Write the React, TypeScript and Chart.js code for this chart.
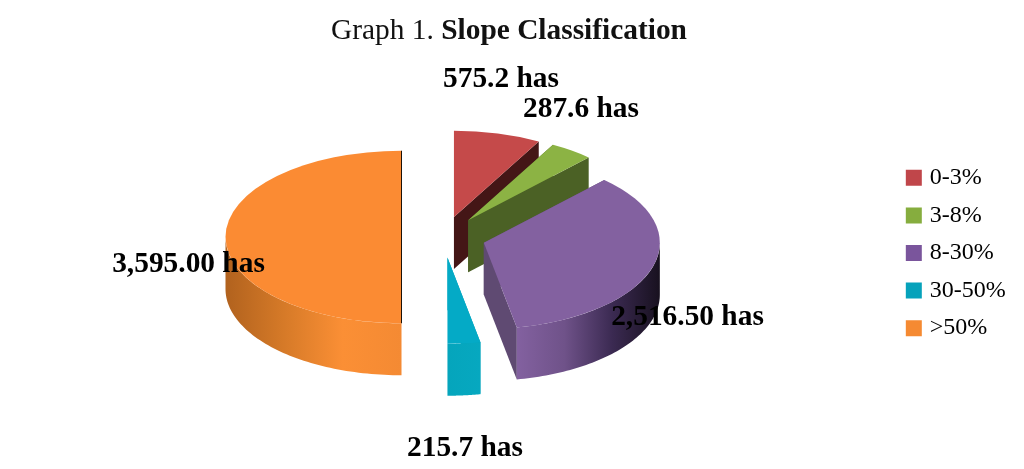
import React, { useEffect, useRef } from "react";
import { Chart, registerables } from "chart.js";

Chart.register(...registerables);

const categories = ["0-3%", "3-8%", "8-30%", "30-50%", ">50%"];
const hectares = [575.2, 287.6, 2516.5, 215.7, 3595.0];
const valueLabels = ["575.2 has", "287.6 has", "2,516.50 has", "215.7 has", "3,595.00 has"];

const topColors = ["#c54a4a", "#8cb344", "#8361a0", "#04aac6", "#fb8b33"];
const legendColors = ["#c0464a", "#86ad3e", "#7a559c", "#06a2bb", "#f58a32"];
const cutColors = ["#441616", "#4b6125", "#5f4a72", "#05a5bc", "#7a4310"];
const wallStops = [
  ["#6a2626", "#6a2626"],
  ["#4b6125", "#4b6125"],
  ["#8361a0", "#6f5289", "#3b2a52", "#18111f"],
  ["#05a5bc", "#06a8c0"],
  ["#b1621e", "#d67a28", "#fb8f35", "#f48a33"],
];

// geometry of the tilted view
const TILT = 0.49;
const DEPTH = 52;
const PIE_X = 443.5;
const PIE_Y = 237;
const EXPLODE = 42;
const FULL_RADIUS = 176;

const labelAnchors = [
  { x: 501, y: 79 },
  { x: 581, y: 109 },
  { x: 687.5, y: 317 },
  { x: 465, y: 448 },
  { x: 188.5, y: 264 },
];

const tiltPlugin = {
  id: "tilt",
  // explode every slice by moving the library's own arc elements along their bisector
  afterDatasetsUpdate(chart: any) {
    const arcs = chart.getDatasetMeta(0).data;
    chart.$pivot = { x: arcs[0].x, y: arcs[0].y };
    arcs.forEach((arc: any) => {
      const mid = (arc.startAngle + arc.endAngle) / 2;
      arc.x += Math.cos(mid) * EXPLODE;
      arc.y += Math.sin(mid) * EXPLODE;
    });
  },
  beforeDatasetsDraw(chart: any) {
    const ctx = chart.ctx;
    const arcs = chart.getDatasetMeta(0).data;
    const pivot = chart.$pivot;
    arcs.forEach((arc: any, i: number) => {
      const R = arc.outerRadius;
      const ax = PIE_X + arc.x - pivot.x;
      const ay = PIE_Y + (arc.y - pivot.y) * TILT;
      const rim = (t: number) => [ax + R * Math.cos(t), ay + R * Math.sin(t) * TILT];
      // flat cut faces
      [arc.startAngle, arc.endAngle].forEach((t: number) => {
        const [rx, ry] = rim(t);
        ctx.beginPath();
        ctx.moveTo(ax, ay);
        ctx.lineTo(rx, ry);
        ctx.lineTo(rx, ry + DEPTH);
        ctx.lineTo(ax, ay + DEPTH);
        ctx.closePath();
        ctx.fillStyle = cutColors[i];
        ctx.fill();
      });
      // outer rounded wall: only the front half of the rim is visible
      const from = Math.max(arc.startAngle, 0);
      const to = Math.min(arc.endAngle, Math.PI);
      if (to > from) {
        const [x0] = rim(from);
        const [x1] = rim(to);
        const left = Math.min(x0, x1);
        const right = Math.max(x0, x1);
        const grad = ctx.createLinearGradient(
          i === 2 ? x1 : left, 0, i === 2 ? ax + R : right, 0
        );
        const stops = wallStops[i];
        stops.forEach((c, s) => grad.addColorStop(s / (stops.length - 1), c));
        ctx.beginPath();
        const steps = 64;
        for (let s = 0; s <= steps; s++) {
          const [x, y] = rim(from + ((to - from) * s) / steps);
          if (s === 0) ctx.moveTo(x, y);
          else ctx.lineTo(x, y);
        }
        for (let s = steps; s >= 0; s--) {
          const [x, y] = rim(from + ((to - from) * s) / steps);
          ctx.lineTo(x, y + DEPTH);
        }
        ctx.closePath();
        ctx.fillStyle = grad;
        ctx.fill();
      }
    });
    // top faces are drawn by the library inside this squashed frame
    ctx.save();
    ctx.translate(PIE_X, PIE_Y);
    ctx.scale(1, TILT);
    ctx.translate(-pivot.x, -pivot.y);
  },
  afterDatasetsDraw(chart: any) {
    const ctx = chart.ctx;
    ctx.restore();
    // dark sliver along the straight edge of the largest slice
    const arcs = chart.getDatasetMeta(0).data;
    const arc = arcs[arcs.length - 1];
    const ax = PIE_X + arc.x - chart.$pivot.x;
    const R = arc.outerRadius;
    ctx.save();
    ctx.strokeStyle = "#1c1208";
    ctx.lineWidth = 1;
    ctx.beginPath();
    ctx.moveTo(ax, PIE_Y - R * TILT);
    ctx.lineTo(ax, PIE_Y + R * TILT);
    ctx.stroke();
    ctx.restore();
    // value labels
    ctx.save();
    ctx.font = "bold 29.4px 'Liberation Serif'";
    ctx.fillStyle = "#000";
    ctx.textAlign = "center";
    ctx.textBaseline = "middle";
    valueLabels.forEach((t, i) => ctx.fillText(t, labelAnchors[i].x, labelAnchors[i].y));
    ctx.restore();
  },
};

export default function App() {
  const ref = useRef<HTMLCanvasElement>(null);
  useEffect(() => {
    document.body.style.margin = "0";
    const chart = new Chart(ref.current as HTMLCanvasElement, {
      type: "pie",
      data: {
        labels: categories,
        datasets: [
          {
            data: hectares,
            backgroundColor: topColors,
            borderWidth: 0,
            radius: FULL_RADIUS,
            clip: false,
          } as any,
        ],
      },
      options: {
        responsive: false,
        animation: false,
        events: [],
        layout: { padding: { top: 37, right: 8.2 } },
        plugins: {
          title: { display: false },
          tooltip: { enabled: false },
          legend: {
            position: "right",
            labels: {
              font: { family: "'Liberation Serif'", size: 24 },
              color: "#222",
              usePointStyle: true,
              pointStyle: "rect",
              boxWidth: 8,
              boxHeight: 16,
              padding: 13.6,
              generateLabels: () =>
                categories.map((text, i) => ({
                  text,
                  fillStyle: legendColors[i],
                  strokeStyle: legendColors[i],
                  lineWidth: 0,
                  pointStyle: "rect",
                  hidden: false,
                  index: i,
                })),
            },
          },
        },
      },
      plugins: [tiltPlugin],
    } as any);
    return () => chart.destroy();
  }, []);
  return (
    <div style={{ position: "relative", width: 1024, height: 469, background: "#fff", overflow: "hidden" }}>
      <canvas ref={ref} width={1024} height={469} style={{ display: "block" }} />
      <div
        style={{
          position: "absolute",
          left: 0,
          top: 12,
          width: 1018,
          textAlign: "center",
          fontFamily: "'Liberation Serif'",
          fontSize: 29.4,
          lineHeight: "34px",
          color: "#111",
          whiteSpace: "nowrap",
        }}
      >
        Graph 1. <b>Slope Classification</b>
      </div>
    </div>
  );
}
